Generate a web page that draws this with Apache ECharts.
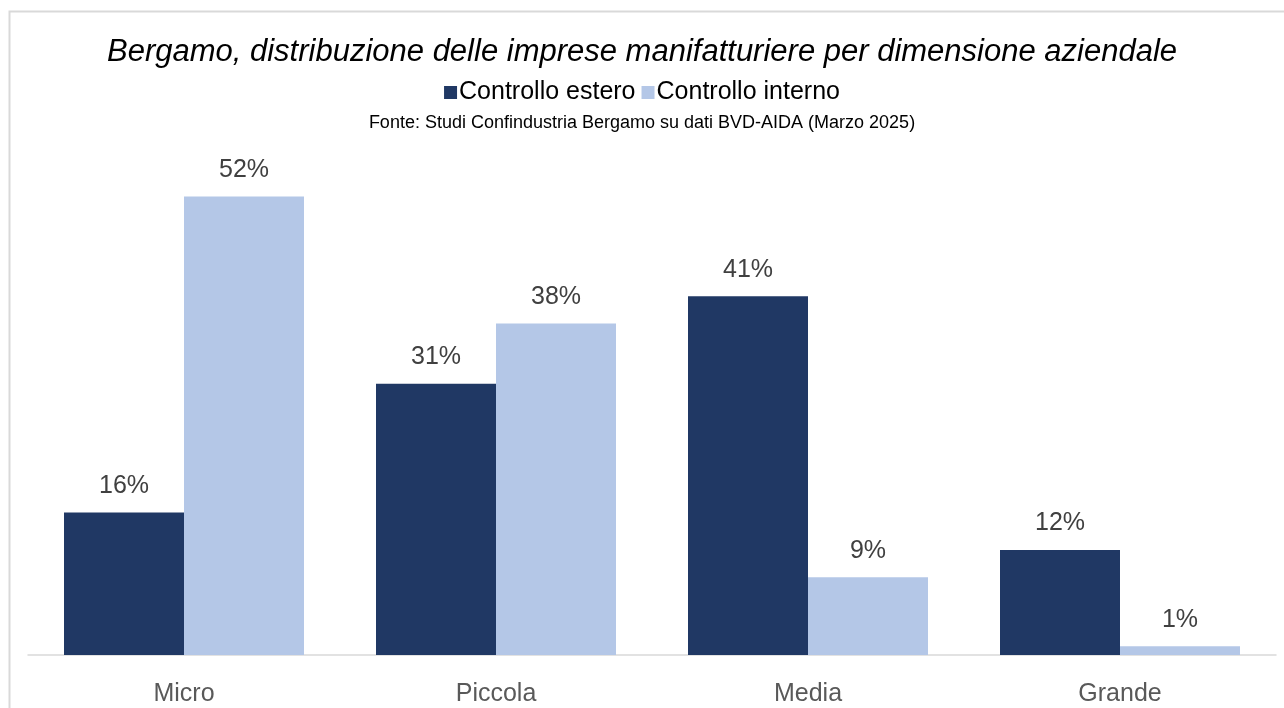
<!DOCTYPE html>
<html>
<head>
<meta charset="utf-8">
<script src="https://cdn.jsdelivr.net/npm/echarts@6/dist/echarts.min.js"></script>
<style>
  html, body { margin: 0; padding: 0; background: #fff; }
  #chart { width: 1284px; height: 708px; }
</style>
</head>
<body>
<div id="chart"></div>
<script>
  // dati (quote %)
  var categorie = ['Micro', 'Piccola', 'Media', 'Grande']
  var controlloEstero = [16.3, 31.0, 41.0, 12.0]
  var controlloInterno = [52.4, 37.9, 8.9, 1.0]

  var font = "'Liberation Sans Narrow', 'Arial Narrow', 'Liberation Sans', Arial, sans-serif"

  var chart = echarts.init(document.getElementById('chart'))

  chart.setOption({
    animation: false,
    textStyle: { fontFamily: font },
    graphic: [
      {
        type: 'rect',
        shape: { x: 9.5, y: 11.5, width: 1290, height: 720 },
        style: { fill: 'none', stroke: '#d9d9d9', lineWidth: 2 },
        silent: true
      }
    ],
    title: [
      {
        text: 'Bergamo, distribuzione delle imprese manifatturiere per dimensione aziendale',
        left: 'center',
        top: 32,
        textStyle: { fontFamily: font, fontStyle: 'italic', fontWeight: 'normal', fontSize: 31, color: '#000' }
      },
      {
        text: 'Fonte: Studi Confindustria Bergamo su dati BVD-AIDA (Marzo 2025)',
        left: 'center',
        top: 109,
        textStyle: { fontFamily: font, fontWeight: 'normal', fontSize: 18, color: '#000' }
      }
    ],
    legend: {
      top: 75,
      left: 'center',
      icon: 'rect',
      itemWidth: 13,
      itemHeight: 13,
      itemGap: 6,
      textStyle: { fontFamily: font, fontSize: 25, color: '#000', padding: [0, 0, 0, -3] },
      data: ['Controllo estero', 'Controllo interno']
    },
    grid: { left: 28, right: 8, top: 130, bottom: 53 },
    xAxis: {
      type: 'category',
      data: categorie,
      axisTick: { show: false },
      axisLine: { lineStyle: { color: '#d9d9d9', width: 1.5 } },
      axisLabel: { fontFamily: font, fontSize: 25, color: '#595959', margin: 27 }
    },
    yAxis: {
      type: 'value',
      min: 0,
      max: 60,
      show: false,
      splitLine: { show: false }
    },
    series: [
      {
        name: 'Controllo estero',
        type: 'bar',
        data: controlloEstero,
        barWidth: 120,
        barGap: '0%',
        itemStyle: { color: '#203864' },
        label: {
          show: true,
          position: 'top',
          distance: 14,
          fontFamily: font,
          fontSize: 25,
          color: '#404040',
          formatter: function (p) { return Math.round(p.value) + '%' }
        }
      },
      {
        name: 'Controllo interno',
        type: 'bar',
        data: controlloInterno,
        barWidth: 120,
        barGap: '0%',
        itemStyle: { color: '#b4c7e7' },
        label: {
          show: true,
          position: 'top',
          distance: 14,
          fontFamily: font,
          fontSize: 25,
          color: '#404040',
          formatter: function (p) { return Math.round(p.value) + '%' }
        }
      }
    ]
  })
</script>
</body>
</html>
